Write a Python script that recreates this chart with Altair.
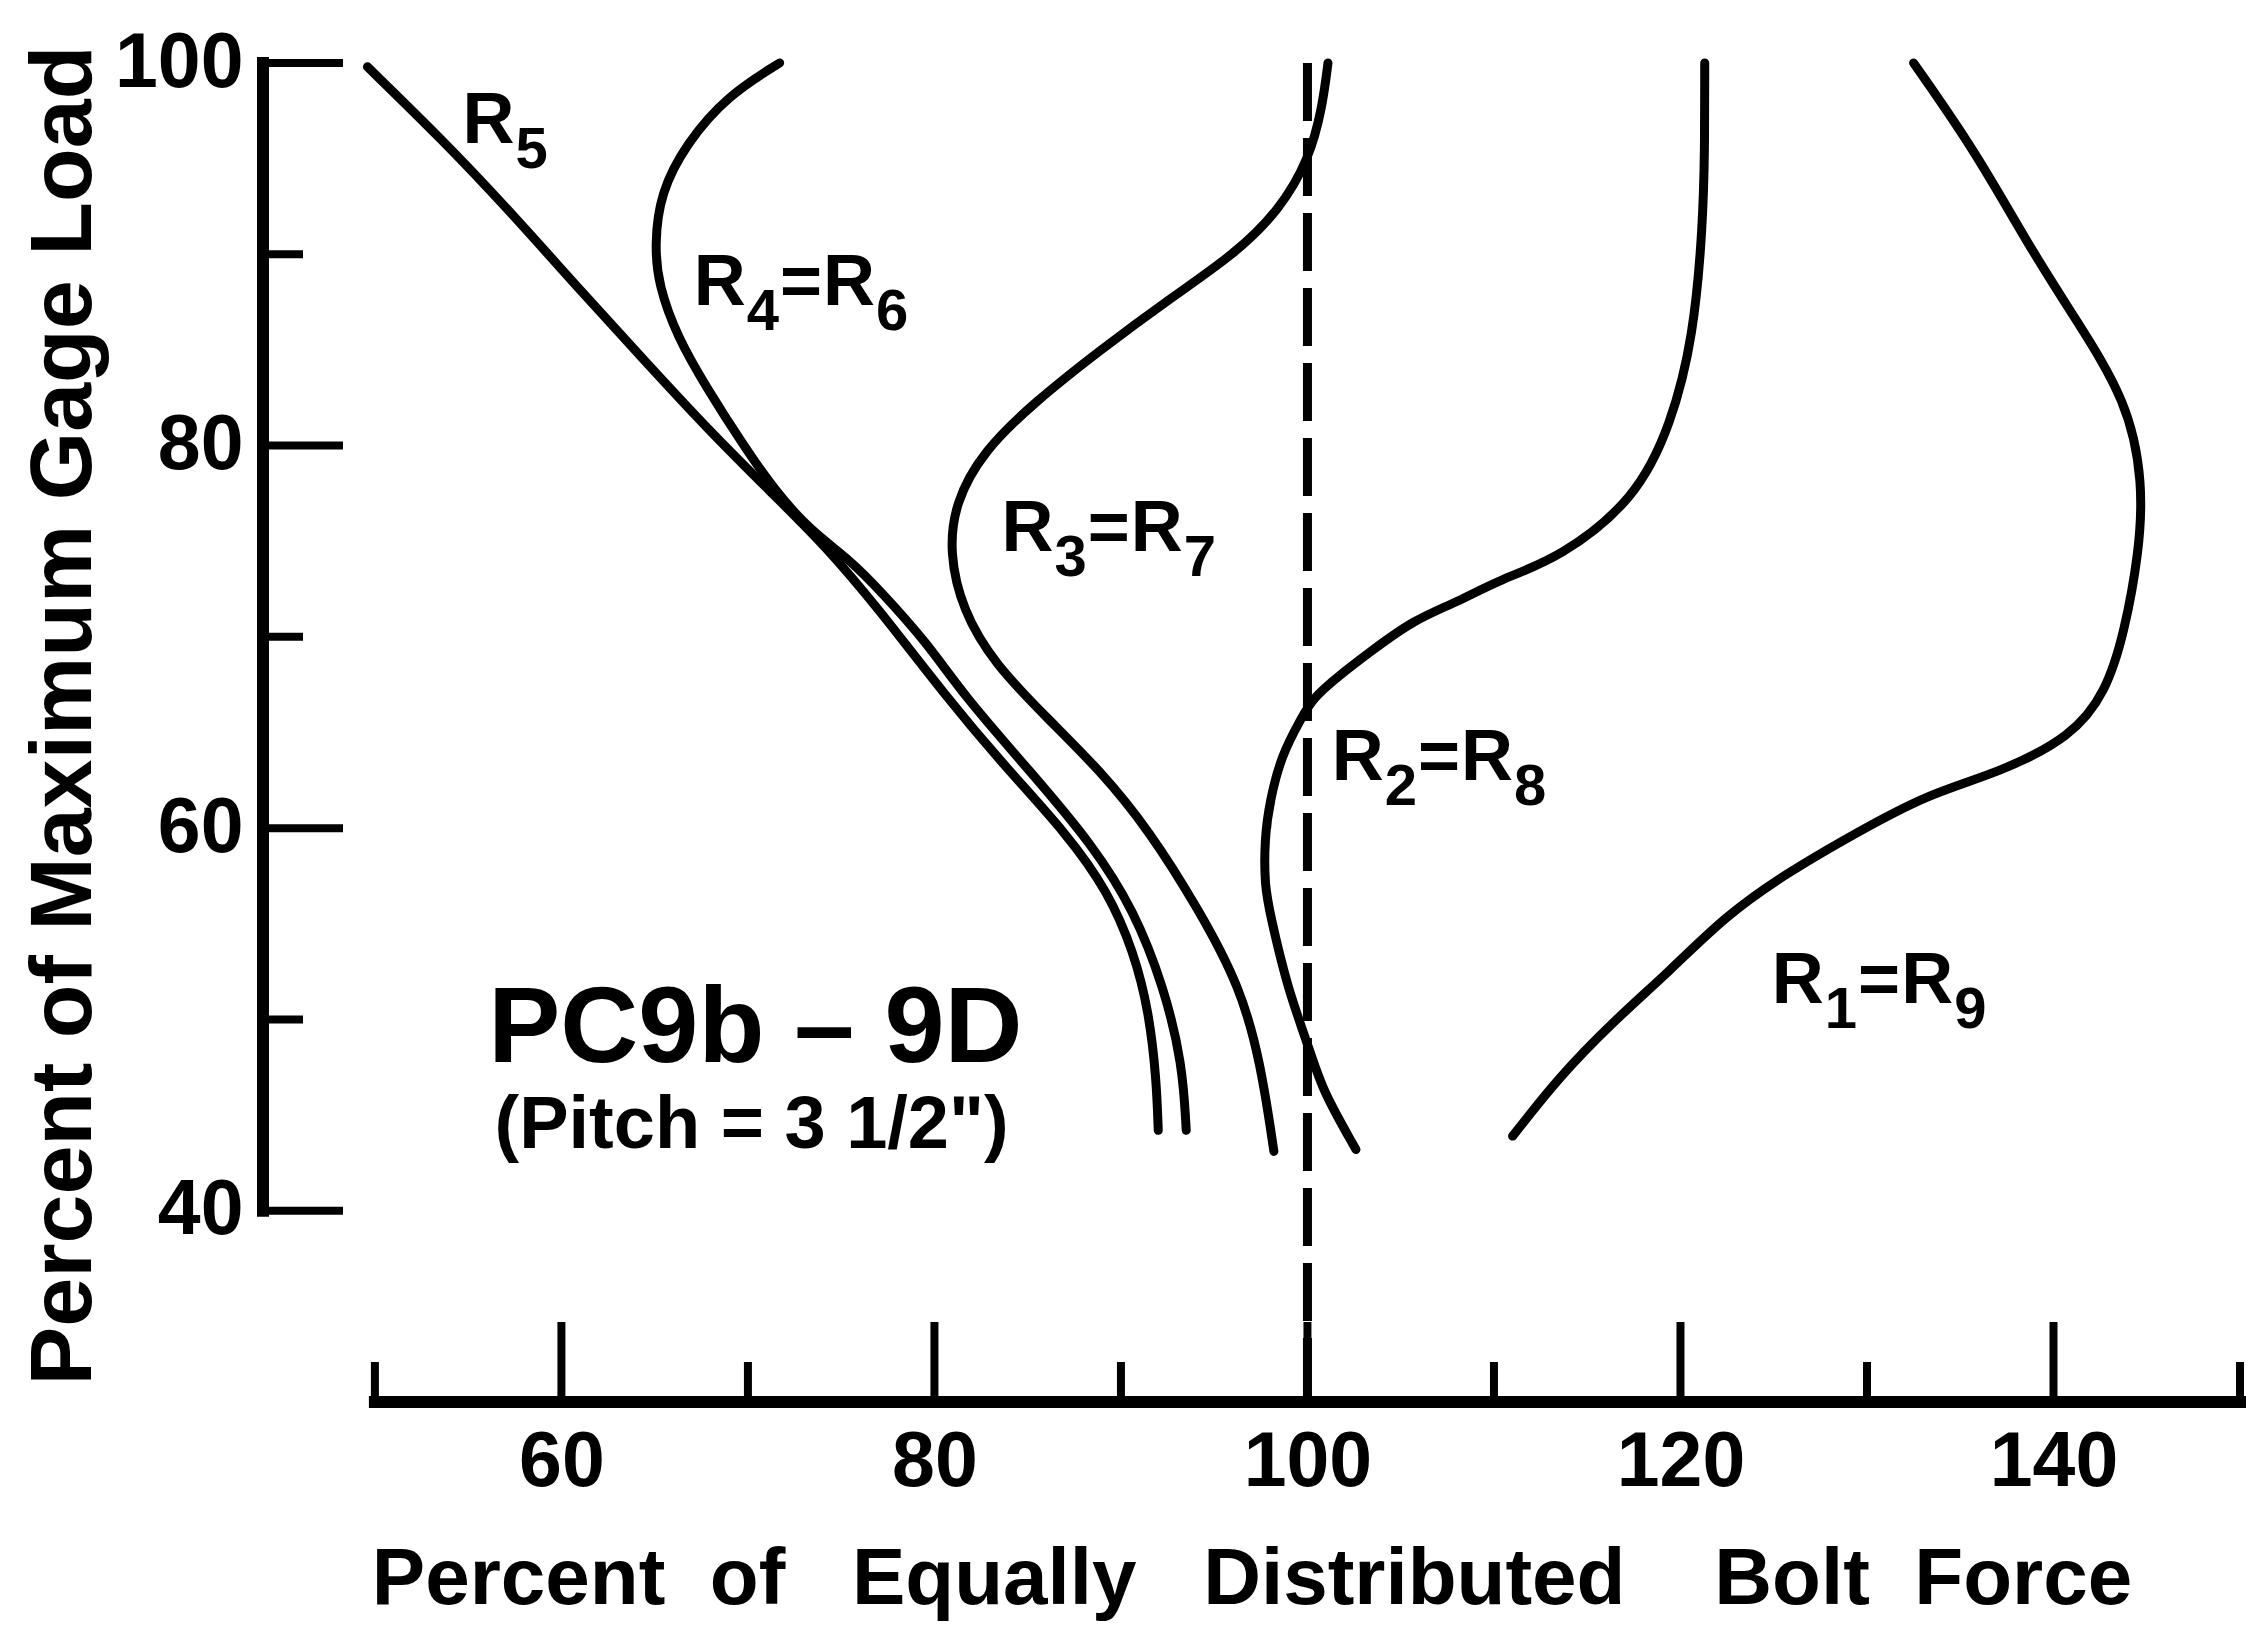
import altair as alt
import pandas as pd

# ---------------- data ----------------
# x = Percent of Equally Distributed Bolt Force, y = Percent of Maximum Gage Load
R5_X = [49.6, 53.6, 57.1, 61.3, 64.5, 67.8, 71.4, 74.1, 76.9, 80.6, 83.8, 87.1, 89.3, 90.7, 91.5, 91.9, 92.0]
R5_Y = [99.8, 96.0, 92.4, 87.8, 84.4, 80.9, 77.4, 74.8, 71.6, 66.9, 63.2, 59.7, 56.7, 53.5, 50.4, 46.9, 44.2]

R4_X = [71.7, 68.9, 66.7, 65.3, 65.0, 65.2, 66.2, 67.8, 69.7, 71.4, 73.3, 75.5, 77.1, 79.6, 81.6, 85.2, 88.5, 90.7, 92.3, 93.3, 93.5]
R4_Y = [100.0, 98.3, 95.8, 93.2, 90.5, 88.4, 85.7, 83.0, 80.1, 77.7, 75.6, 74.0, 72.4, 69.7, 66.9, 62.9, 59.1, 55.7, 51.7, 47.7, 44.2]

R3_X = [101.1, 100.8, 100.1, 98.5, 96.1, 92.5, 88.9, 85.4, 82.6, 81.1, 80.8, 81.5, 83.2, 86.1, 88.9, 91.5, 94.2, 96.4, 97.5, 98.2]
R3_Y = [100.0, 97.7, 95.0, 92.3, 90.0, 87.6, 85.0, 82.3, 79.7, 77.0, 74.4, 71.4, 68.6, 65.7, 63.0, 59.9, 55.7, 51.7, 47.7, 43.1]

R2_X = [121.3, 121.3, 121.2, 120.7, 119.5, 117.6, 113.5, 110.3, 108.0, 105.7, 103.2, 101.6, 100.3, 99.7, 98.6, 98.0, 97.7, 97.7, 98.0, 98.9, 100.2, 100.8, 102.6]
R2_Y = [100.0, 95.5, 91.5, 85.7, 81.1, 77.2, 74.1, 73.0, 71.8, 70.9, 69.1, 67.9, 66.8, 65.8, 63.8, 61.5, 59.5, 57.0, 55.5, 51.7, 48.2, 46.3, 43.2]

R1_X = [132.5, 135.8, 138.7, 141.0, 144.0, 144.8, 144.6, 143.8, 142.8, 141.0, 137.1, 133.3, 129.5, 125.6, 122.4, 119.5, 116.3, 113.5, 111.0]
R1_Y = [100.0, 95.4, 90.4, 86.9, 82.3, 78.0, 74.5, 70.2, 67.1, 64.8, 62.9, 61.8, 59.8, 57.6, 55.4, 52.6, 49.8, 47.0, 43.9]

CURVES = {
    "R5": (R5_X, R5_Y),
    "R4=R6": (R4_X, R4_Y),
    "R3=R7": (R3_X, R3_Y),
    "R2=R8": (R2_X, R2_Y),
    "R1=R9": (R1_X, R1_Y),
}

# curve labels (digits are drawn as subscripts); anchor = left edge / baseline
LABELS = ["R5", "R4=R6", "R3=R7", "R2=R8", "R1=R9"]
LABEL_X = [54.7, 67.1, 83.6, 101.3, 124.9]
LABEL_Y = [95.8, 87.35, 74.5, 62.5, 50.85]

INFO_TEXT = ["PC9b \u2013 9D", "(Pitch = 3 1/2\")"]
INFO_X = [70.4, 70.2]
INFO_Y = [47.8, 43.3]
INFO_ROLE = ["big", "small"]

X_LABELS = [60, 80, 100, 120, 140]
Y_LABELS = [40, 60, 80, 100]
X_TICKS_MAJOR = [60, 80, 100, 120, 140]
X_TICKS_MINOR = [50, 70, 90, 110, 130, 150]
Y_TICKS_MAJOR = [40, 60, 80, 100]
Y_TICKS_MINOR = [50, 70, 90]
X_AXIS_SPAN = [50, 150]
Y_AXIS_SPAN = [40, 100]
REFERENCE_X = 100

X_DOMAIN = [44, 150]
Y_DOMAIN = [30, 100]

NB = "\u00a0"
X_TITLE = ("Percent" + NB * 2 + "of" + NB * 3 + "Equally" + NB * 3 + "Distributed"
           + NB * 4 + "Bolt" + NB * 2 + "Force")
Y_TITLE = "Percent of Maximum Gage Load"

# ---------------- layout ----------------
W, H = 1977, 1339
FONT = "Liberation Sans"
px_x = W / (X_DOMAIN[1] - X_DOMAIN[0])
px_y = H / (Y_DOMAIN[1] - Y_DOMAIN[0])
MAJOR_LEN, MINOR_LEN = 80, 40
MAIN_SIZE, SUB_SIZE, SUB_DROP = 72, 58, 25
ADV = {"R": 0.722, "=": 0.584}  # Liberation Sans Bold advance widths (em)
DIGIT_ADV = 0.556

xs = alt.Scale(domain=X_DOMAIN, nice=False, zero=False)
ys = alt.Scale(domain=Y_DOMAIN, nice=False, zero=False)

X_AX = alt.Axis(
    values=X_LABELS, domain=False, ticks=False, grid=False, format="d",
    labelFont=FONT, labelFontWeight="bold", labelFontSize=77, labelColor="black",
    labelPadding=22, labelOverlap=False,
    title=X_TITLE,
    titleFont=FONT, titleFontWeight="bold", titleFontSize=80, titleColor="black",
    titlePadding=40)
Y_AX = alt.Axis(
    values=Y_LABELS, domain=False, ticks=False, grid=False, format="d",
    labelFont=FONT, labelFontWeight="bold", labelFontSize=77, labelColor="black",
    labelPadding=20, labelOverlap=False,
    title=Y_TITLE,
    titleFont=FONT, titleFontWeight="bold", titleFontSize=88, titleColor="black",
    titlePadding=6, titleY=652)


def X(field="x"):
    return alt.X(f"{field}:Q", scale=xs, axis=X_AX)


def Y(field="y"):
    return alt.Y(f"{field}:Q", scale=ys, axis=Y_AX)


rows = []
for name, (cx, cy) in CURVES.items():
    for i, (a, b) in enumerate(zip(cx, cy)):
        rows.append({"curve": name, "i": i, "x": a, "y": b})
curves_df = pd.DataFrame(rows)

curves = alt.Chart(curves_df).mark_line(
    color="black", strokeWidth=9, interpolate="basis", strokeCap="round", strokeJoin="round"
).encode(x=X(), y=Y(), detail="curve:N", order="i:Q")

# dashed reference line at 100 %
ref_df = pd.DataFrame({"x": [REFERENCE_X], "y": [Y_DOMAIN[1]], "y2": [Y_DOMAIN[0]]})
ref = alt.Chart(ref_df).mark_rule(color="black", strokeWidth=9, strokeDash=[58, 17]).encode(
    x=X(), y=Y(), y2="y2:Q")

# axis lines
axl_df = pd.DataFrame({
    "x": [X_AXIS_SPAN[0], X_DOMAIN[0]],
    "x2": [X_AXIS_SPAN[1], X_DOMAIN[0]],
    "y": [Y_DOMAIN[0], Y_AXIS_SPAN[0]],
    "y2": [Y_DOMAIN[0], Y_AXIS_SPAN[1]],
})
axis_lines = alt.Chart(axl_df).mark_rule(color="black", strokeWidth=12, strokeCap="square").encode(
    x=X(), x2="x2:Q", y=Y(), y2="y2:Q")

# ticks (pointing into the plot)
trows = []
for v in X_TICKS_MAJOR:
    trows.append({"x": v, "x2": v, "y": Y_DOMAIN[0], "y2": Y_DOMAIN[0] + MAJOR_LEN / px_y})
for v in X_TICKS_MINOR:
    trows.append({"x": v, "x2": v, "y": Y_DOMAIN[0], "y2": Y_DOMAIN[0] + MINOR_LEN / px_y})
for v in Y_TICKS_MAJOR:
    trows.append({"x": X_DOMAIN[0], "x2": X_DOMAIN[0] + MAJOR_LEN / px_x, "y": v, "y2": v})
for v in Y_TICKS_MINOR:
    trows.append({"x": X_DOMAIN[0], "x2": X_DOMAIN[0] + MINOR_LEN / px_x, "y": v, "y2": v})
ticks = alt.Chart(pd.DataFrame(trows)).mark_rule(color="black", strokeWidth=8, strokeCap="butt").encode(
    x=X(), x2="x2:Q", y=Y(), y2="y2:Q")

# split each label into main letters and subscripted digits, laid out left to right
seg = []
for lab, lx, ly in zip(LABELS, LABEL_X, LABEL_Y):
    off = 0.0
    for ch in lab:
        if ch.isdigit():
            seg.append({"t": ch, "x": lx + off / px_x, "y": ly - SUB_DROP / px_y, "role": "sub"})
            off += DIGIT_ADV * SUB_SIZE + 1
        else:
            seg.append({"t": ch, "x": lx + off / px_x, "y": ly, "role": "main"})
            off += ADV.get(ch, 0.6) * MAIN_SIZE + 1
lab_df = pd.DataFrame(seg)

lab_main = alt.Chart(lab_df).transform_filter("datum.role == 'main'").mark_text(
    font=FONT, fontWeight="bold", fontSize=MAIN_SIZE, color="black", align="left", baseline="alphabetic"
).encode(x=X(), y=Y(), text="t:N")
lab_sub = alt.Chart(lab_df).transform_filter("datum.role == 'sub'").mark_text(
    font=FONT, fontWeight="bold", fontSize=SUB_SIZE, color="black", align="left", baseline="alphabetic"
).encode(x=X(), y=Y(), text="t:N")

info_df = pd.DataFrame({"t": INFO_TEXT, "x": INFO_X, "y": INFO_Y, "role": INFO_ROLE})
info_big = alt.Chart(info_df).transform_filter("datum.role == 'big'").mark_text(
    font=FONT, fontWeight="bold", fontSize=108, color="black", align="center", baseline="alphabetic"
).encode(x=X(), y=Y(), text="t:N")
info_small = alt.Chart(info_df).transform_filter("datum.role == 'small'").mark_text(
    font=FONT, fontWeight="bold", fontSize=74, color="black", align="center", baseline="alphabetic"
).encode(x=X(), y=Y(), text="t:N")

chart = alt.layer(
    curves, ref, axis_lines, ticks, lab_main, lab_sub, info_big, info_small
).properties(
    width=W, height=H,
    autosize=alt.AutoSizeParams(type="none"),
    padding={"left": 255, "top": 55, "right": 8, "bottom": 230},
    background="white",
).configure_view(stroke=None)

chart.save("out.html", embed_options={"renderer": "svg", "actions": False})
